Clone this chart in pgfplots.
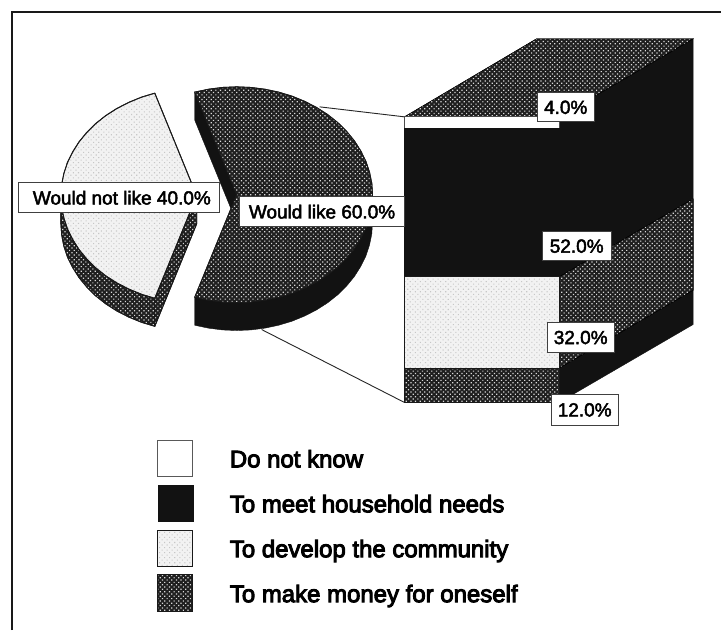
\documentclass[border=0pt]{standalone}
\usepackage{fontspec}
\setmainfont{Liberation Sans}
\newfontfamily\legendfont[FakeBold=4]{Liberation Sans}
\newfontfamily\tagfont[FakeBold=2.5]{Liberation Sans}
\usepackage{pgfplots}
\pgfplotsset{compat=1.18}
\usepackage{pgfplotstable}
\usetikzlibrary{patterns.meta}

% Top rim of the "Would like" slice
\pgfplotstableread{
x     y
195.0 92.3
208.7 89.4
222.8 87.6
237.0 87.0
251.2 87.6
265.3 89.4
279.0 92.3
292.3 96.3
305.0 101.5
316.9 107.6
328.0 114.7
338.1 122.7
347.0 131.5
354.8 141.0
361.2 151.1
366.4 161.6
370.0 172.5
372.3 183.7
373.0 195.0
372.3 206.3
370.0 217.5
366.4 228.4
361.2 238.9
354.8 249.0
347.0 258.5
338.1 267.3
328.0 275.3
316.9 282.4
305.0 288.5
292.3 293.7
279.0 297.7
265.3 300.6
251.2 302.4
237.0 303.0
222.8 302.4
208.7 300.6
195.0 297.7
237.0 195.0
}\likeslice

% Outer wall of the "Would like" slice
\pgfplotstableread{
x     y
373.0 195.0
372.3 206.3
370.0 217.5
366.4 228.4
361.2 238.9
354.8 249.0
347.0 258.5
338.1 267.3
328.0 275.3
316.9 282.4
305.0 288.5
292.3 293.7
279.0 297.7
265.3 300.6
251.2 302.4
237.0 303.0
222.8 302.4
208.7 300.6
195.0 297.7
195.0 325.7
208.7 328.6
222.8 330.4
237.0 331.0
251.2 330.4
265.3 328.6
279.0 325.7
292.3 321.7
305.0 316.5
316.9 310.4
328.0 303.3
338.1 295.3
347.0 286.5
354.8 277.0
361.2 266.9
366.4 256.4
370.0 245.5
372.3 234.3
373.0 223.0
}\likewall

% Top rim of the "Would not like" slice
\pgfplotstableread{
x     y
155.0 93.3
141.7 97.3
129.0 102.5
117.1 108.6
106.0 115.7
95.9  123.7
87.0  132.5
79.2  142.0
72.8  152.1
67.6  162.6
64.0  173.5
61.8  184.7
61.0  196.0
61.8  207.3
64.0  218.5
67.6  229.4
72.8  239.9
79.2  250.0
87.0  259.5
95.9  268.3
106.0 276.3
117.1 283.4
129.0 289.5
141.7 294.7
155.0 298.7
197.0 196.0
}\notlikeslice

% Outer wall of the "Would not like" slice
\pgfplotstableread{
x     y
61.0  196.0
61.8  207.3
64.0  218.5
67.6  229.4
72.8  239.9
79.2  250.0
87.0  259.5
95.9  268.3
106.0 276.3
117.1 283.4
129.0 289.5
141.7 294.7
155.0 298.7
155.0 326.7
141.7 322.7
129.0 317.5
117.1 311.4
106.0 304.3
95.9  296.3
87.0  287.5
79.2  278.0
72.8  267.9
67.6  257.4
64.0  246.5
61.8  235.3
61.0  224.0
}\notlikewall

\pgfplotsset{
  canvas/.style={
    at={(0,0)}, anchor=south west,
    scale only axis, width=722bp, height=631bp,
    axis lines=none, clip=false
  },
  darkhatch/.style={
    preaction={fill=black!88},
    pattern={Dots[distance=3.3pt, radius=0.85pt, angle=45]},
    pattern color=black!15
  },
  lightdots/.style={
    preaction={fill=black!5},
    pattern={Dots[distance=3.6pt, radius=0.75pt, angle=45]},
    pattern color=black!22
  },
  solidblack/.style={fill=black!93, draw=black!93},
  face/.style={draw=black!90, line width=0.9bp, line join=round}
}
\tikzset{
  tag/.style={draw=black!75, line width=0.8bp, fill=white, inner sep=0pt,
    font=\fontsize{19bp}{22bp}\tagfont},
  key/.style={anchor=base west, inner sep=0pt,
    font=\fontsize{24bp}{28bp}\legendfont}
}

\begin{document}
\begin{tikzpicture}
% Pie and leader lines, in picture units
\begin{axis}[canvas, xmin=0, xmax=722, ymin=0, ymax=631, y dir=reverse]
  \addplot[draw=white, line width=0pt, fill=white] coordinates {(0,0) (722,0) (722,631) (0,631)} --cycle;
  \addplot[black!90, line width=2bp] coordinates {(12,631) (12,12.5) (722,12.5)};

  \addplot[black!85, line width=0.9bp] coordinates {(320,107) (405,117)};
  \addplot[black!85, line width=0.9bp] coordinates {(262,330) (405,403)};

  % Would not like
  \addplot[face, darkhatch] table {\notlikewall} --cycle;
  \addplot[face, darkhatch] coordinates {(197,196) (155,298.7) (155,326.7) (197,224)} --cycle;
  \addplot[face, lightdots] table {\notlikeslice} --cycle;

  % Would like
  \addplot[solidblack] table {\likewall} --cycle;
  \addplot[solidblack] coordinates {(195,92.3) (237,195) (237,223) (195,120.3)} --cycle;
  \addplot[face, darkhatch] table {\likeslice} --cycle;

  % Key swatches
  \addplot[draw=black!65, line width=1bp, fill=white] coordinates {(158,441) (193,441) (193,477) (158,477)} --cycle;
  \addplot[solidblack] coordinates {(158,486) (193,486) (193,522) (158,522)} --cycle;
  \addplot[face, lightdots] coordinates {(158,531) (193,531) (193,567) (158,567)} --cycle;
  \addplot[face, darkhatch] coordinates {(158,575) (193,575) (193,612) (158,612)} --cycle;

  \node[key] at (axis cs:230,468) {Do not know};
  \node[key] at (axis cs:230,513) {To meet household needs};
  \node[key] at (axis cs:230,558) {To develop the community};
  \node[key] at (axis cs:230,603) {To make money for oneself};
\end{axis}

% Side and top of the column; y is the percentage, depth adds 27.27 units
\begin{axis}[canvas, xmin=0, xmax=722, ymin=-79.72, ymax=140.91]
  \addplot[solidblack] coordinates {(560,0) (694,27.27) (694,127.27) (560,100)} --cycle;
  \addplot[darkhatch] coordinates {(560,44) (694,71.27) (694,39.27) (560,12)} --cycle;
  \addplot[darkhatch] coordinates {(405,100) (537,127.27) (694,127.27) (560,100)} --cycle;
\end{axis}

% Front of the column, stacked from the shares
\begin{axis}[canvas, xmin=0, xmax=722, ymin=-79.72, ymax=140.91,
    ybar stacked, bar width=155bp, bar shift=0pt]
  \addplot[face, darkhatch] coordinates {(482.5,12)};
  \addplot[face, lightdots] coordinates {(482.5,32)};
  \addplot[solidblack] coordinates {(482.5,52)};
  \addplot[draw=black!70, line width=0.8bp, fill=white] coordinates {(482.5,4)};
\end{axis}

% Value tags
\begin{axis}[canvas, xmin=0, xmax=722, ymin=0, ymax=631, y dir=reverse]
  \node[tag, minimum width=202bp, minimum height=30bp] at (axis cs:119,198) {\hspace{6bp}Would not like 40.0\%};
  \node[tag, minimum width=165bp, minimum height=30bp] at (axis cs:322.5,212) {Would like 60.0\%};
  \node[tag, minimum width=57bp, minimum height=29bp] at (axis cs:566.5,107.5) {4.0\%};
  \node[tag, minimum width=69bp, minimum height=29bp] at (axis cs:577.5,246.5) {52.0\%};
  \node[tag, minimum width=67bp, minimum height=30bp] at (axis cs:581.5,338) {32.0\%};
  \node[tag, minimum width=67bp, minimum height=31bp] at (axis cs:585.5,410.5) {12.0\%};
\end{axis}
\end{tikzpicture}
\end{document}
